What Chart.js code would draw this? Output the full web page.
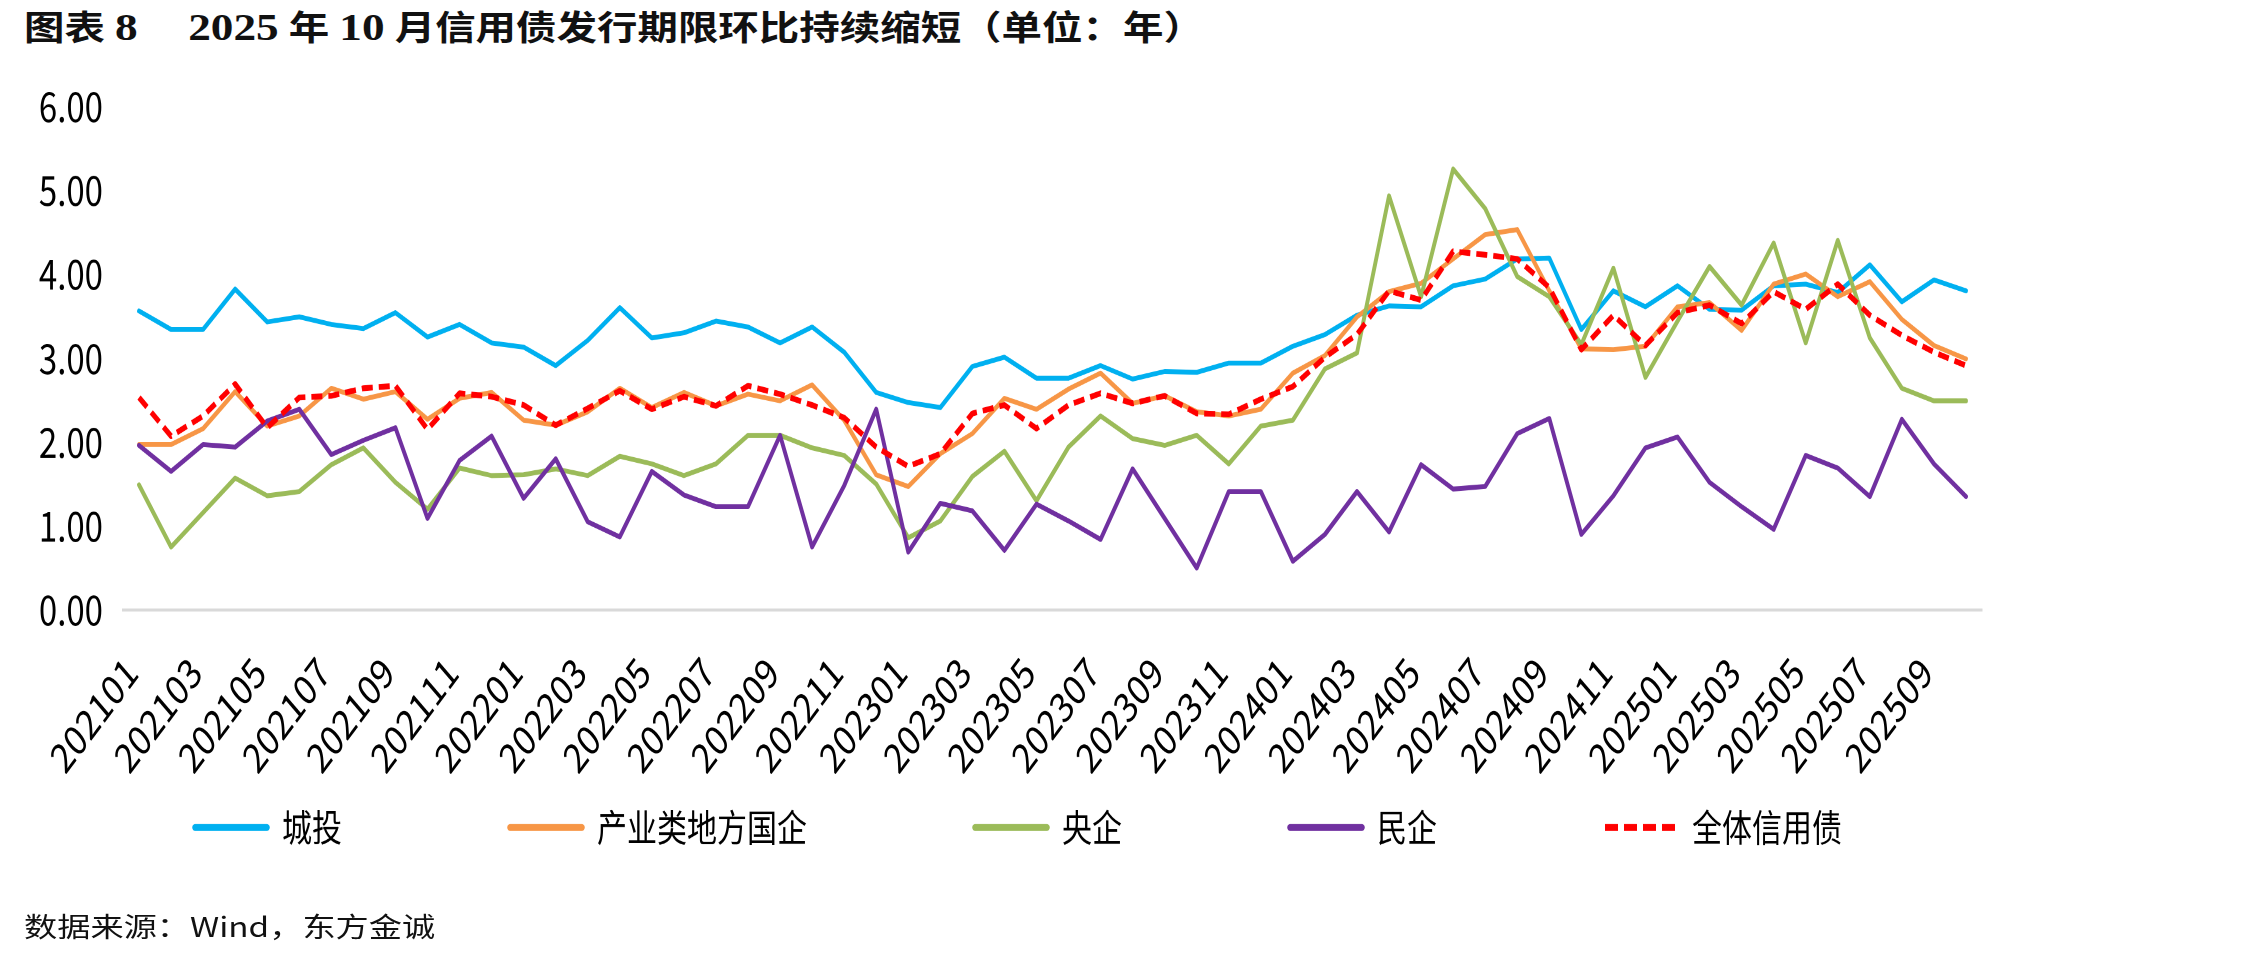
<!DOCTYPE html>
<html>
<head>
<meta charset="utf-8">
<script src="https://cdn.jsdelivr.net/npm/chart.js@4.4.1/dist/chart.umd.min.js"></script>
<style>
  html, body { margin: 0; padding: 0; background: #fff; width: 2244px; height: 958px; overflow: hidden; }
  #title { position: absolute; left: 24px; top: 9px; font-family: 'Liberation Serif', 'Noto Sans CJK SC', serif; font-weight: bold; font-size: 34px; line-height: 36px; white-space: pre; color: #111; transform: scaleX(1.19); transform-origin: 0 0; }
  #title .num { font-size: 38px; }
  #wrap { position: absolute; left: 0; top: 0; width: 2244px; height: 766px; transform: scaleY(1.2507); transform-origin: 0 0; }
  #source { position: absolute; left: 24px; top: 910px; font-family: 'Noto Sans CJK SC', sans-serif; font-size: 27px; line-height: 32px; white-space: pre; color: #111; transform: scaleX(1.23); transform-origin: 0 0; }
</style>
</head>
<body>
<div id="title">图表 <span class="num">8</span>     <span class="num">2025</span> 年 <span class="num">10</span> 月信用债发行期限环比持续缩短（单位：年）</div>
<div id="wrap"><canvas id="c" width="2244" height="766"></canvas></div>
<div id="source">数据来源：Wind，东方金诚</div>
<script>
// ---- data ----
const categories = [
  '202101','202102','202103','202104','202105','202106','202107','202108','202109','202110','202111','202112',
  '202201','202202','202203','202204','202205','202206','202207','202208','202209','202210','202211','202212',
  '202301','202302','202303','202304','202305','202306','202307','202308','202309','202310','202311','202312',
  '202401','202402','202403','202404','202405','202406','202407','202408','202409','202410','202411','202412',
  '202501','202502','202503','202504','202505','202506','202507','202508','202509','202510'
];
const seriesNames = ['城投', '产业类地方国企', '央企', '民企', '全体信用债'];
const chengtou = [
  3.56, 3.34, 3.34, 3.82, 3.43, 3.49, 3.40, 3.35, 3.54, 3.25, 3.40, 3.18,
  3.13, 2.91, 3.21, 3.60, 3.24, 3.30, 3.44, 3.37, 3.18, 3.37, 3.07, 2.59,
  2.47, 2.41, 2.90, 3.01, 2.76, 2.76, 2.91, 2.75, 2.84, 2.83, 2.94, 2.94,
  3.14, 3.28, 3.51, 3.62, 3.61, 3.86, 3.94, 4.18, 4.19, 3.34, 3.80, 3.61,
  3.86, 3.58, 3.57, 3.86, 3.88, 3.78, 4.11, 3.67, 3.93, 3.80
];
const chanye = [
  1.97, 1.97, 2.16, 2.60, 2.19, 2.31, 2.64, 2.51, 2.60, 2.27, 2.52, 2.59,
  2.26, 2.20, 2.36, 2.64, 2.41, 2.59, 2.43, 2.57, 2.49, 2.68, 2.26, 1.61,
  1.47, 1.86, 2.10, 2.52, 2.39, 2.63, 2.82, 2.46, 2.55, 2.36, 2.31, 2.39,
  2.82, 3.03, 3.49, 3.79, 3.89, 4.18, 4.47, 4.53, 3.80, 3.11, 3.10, 3.14,
  3.61, 3.66, 3.33, 3.88, 4.00, 3.73, 3.91, 3.46, 3.15, 2.99
];
const yangqi = [
  1.49, 0.75, 1.16, 1.57, 1.36, 1.41, 1.73, 1.93, 1.52, 1.20, 1.69, 1.60,
  1.61, 1.68, 1.60, 1.83, 1.74, 1.60, 1.74, 2.08, 2.08, 1.93, 1.84, 1.50,
  0.86, 1.06, 1.59, 1.89, 1.30, 1.94, 2.31, 2.04, 1.96, 2.08, 1.74, 2.19,
  2.26, 2.87, 3.06, 4.93, 3.73, 5.25, 4.78, 3.97, 3.73, 3.16, 4.07, 2.77,
  3.44, 4.09, 3.63, 4.37, 3.18, 4.40, 3.24, 2.64, 2.49, 2.49
];
const minqi = [
  1.96, 1.65, 1.97, 1.94, 2.25, 2.39, 1.85, 2.02, 2.17, 1.09, 1.78, 2.07,
  1.33, 1.80, 1.05, 0.87, 1.65, 1.37, 1.23, 1.23, 2.08, 0.75, 1.48, 2.39,
  0.69, 1.27, 1.18, 0.71, 1.26, 1.06, 0.84, 1.68, 1.09, 0.50, 1.41, 1.41,
  0.58, 0.90, 1.41, 0.93, 1.73, 1.44, 1.47, 2.10, 2.28, 0.90, 1.36, 1.93,
  2.06, 1.52, 1.23, 0.96, 1.84, 1.69, 1.35, 2.27, 1.74, 1.35
];
const quanti = [
  2.53, 2.07, 2.31, 2.69, 2.17, 2.53, 2.55, 2.64, 2.67, 2.15, 2.58, 2.54,
  2.44, 2.20, 2.40, 2.61, 2.39, 2.54, 2.43, 2.67, 2.57, 2.44, 2.29, 1.94,
  1.71, 1.86, 2.34, 2.44, 2.16, 2.44, 2.58, 2.46, 2.55, 2.34, 2.33, 2.51,
  2.66, 3.01, 3.28, 3.80, 3.69, 4.27, 4.23, 4.18, 3.84, 3.10, 3.51, 3.15,
  3.54, 3.63, 3.41, 3.79, 3.58, 3.88, 3.51, 3.27, 3.07, 2.91
];
const yTickMin = 0, yTickMax = 6, yTickStep = 1;

// ---- styling ----
const colors = ['#00B0F0', '#F79646', '#9BBB59', '#7030A0', '#FF0000'];
const values = [chengtou, chanye, yangqi, minqi, quanti];
const FONT = "'Noto Sans CJK SC', 'Noto Sans', sans-serif";

const datasets = values.map((v, i) => ({
  label: seriesNames[i],
  data: v,
  borderColor: colors[i],
  backgroundColor: colors[i],
  borderWidth: i === 4 ? 4.6 : 3.9,
  borderDash: i === 4 ? [11, 6] : [],
  borderCapStyle: i === 4 ? 'butt' : 'round',
  borderJoinStyle: 'round',
  pointRadius: 0,
  tension: 0,
  fill: false,
  order: 4 - i
}));

const LEGEND_TOP = 478.6;
const legendPlacer = {
  id: 'legendPlacer',
  afterLayout(chart) {
    const lg = chart.legend;
    if (!lg) return;
    lg.left = 27;
    lg.right = 2244;
    lg.top = LEGEND_TOP;
    lg.bottom = 766;
    lg.width = lg.right - lg.left;
    lg.height = lg.bottom - lg.top;
  }
};

new Chart(document.getElementById('c'), {
  type: 'line',
  data: { labels: categories, datasets },
  plugins: [legendPlacer],
  options: {
    responsive: false,
    animation: false,
    devicePixelRatio: 2,
    layout: { padding: { left: 27, right: 262, top: 84.8, bottom: 58.3 } },
    plugins: {
      tooltip: { enabled: false },
      legend: {
        position: 'bottom',
        align: 'start',
        maxHeight: 20,
        labels: {
          usePointStyle: true,
          pointStyle: 'line',
          pointStyleWidth: 72,
          padding: 168,
          color: '#000',
          font: { family: FONT, size: 30 },
          sort: (a, b) => a.datasetIndex - b.datasetIndex,
          generateLabels(chart) {
            const items = Chart.defaults.plugins.legend.labels.generateLabels(chart);
            return items.map(it => {
              const ds = chart.data.datasets[it.datasetIndex];
              return Object.assign(it, {
                lineWidth: 5.5,
                pointStyle: 'line',
                strokeStyle: ds.borderColor,
                lineDash: ds.borderDash.length ? [13, 6] : [],
                lineCap: ds.borderDash.length ? 'butt' : 'round'
              });
            });
          }
        }
      }
    },
    scales: {
      x: {
        offset: true,
        grid: { display: false, drawTicks: false },
        border: { display: true, color: '#D9D9D9', width: 2.4 },
        ticks: {
          autoSkip: false,
          minRotation: 47,
          maxRotation: 47,
          padding: 30,
          labelOffset: -8,
          color: '#000',
          font: { family: FONT, size: 33 },
          callback: (v, i) => (i % 2 === 0 ? categories[i] : '')
        },
        afterFit: s => { s.height = 200; }
      },
      y: {
        min: yTickMin,
        max: yTickMax,
        grid: { display: false, drawTicks: false },
        border: { display: false },
        ticks: {
          stepSize: yTickStep,
          padding: 20,
          color: '#000',
          font: { family: FONT, size: 33 },
          callback: v => Number(v).toFixed(2)
        },
        afterFit: s => { s.width = 96; }
      }
    }
  }
});
</script>
</body>
</html>
